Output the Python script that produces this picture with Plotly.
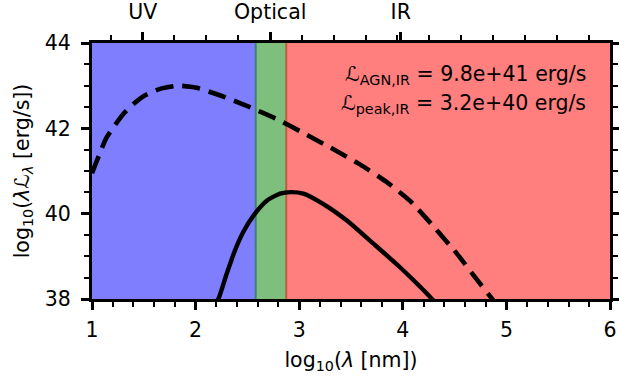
import numpy as np
import plotly.graph_objects as go

# Wavelength bands (log10 nm): UV, optical, IR
band_edges = [1.0, 2.58, 2.875, 6.0]
band_colors = ["blue", "green", "red"]

# Top-axis band labels
band_tick_vals = [1.49, 2.72, 3.98]
band_tick_text = ["UV", "Optical", "IR"]

# Luminosities quoted in the legend text (erg/s)
L_AGN_IR = 9.8e41
L_PEAK_IR = 3.2e40

# Total AGN SED (dashed)
agn_x = [1.00, 1.14, 1.30, 1.40, 1.50, 1.65, 1.84, 2.01, 2.24, 2.50, 2.79,
         3.01, 3.30, 3.59, 3.84, 4.07, 4.29, 4.52, 4.71, 4.87, 5.00]
agn_y = [40.95, 41.78, 42.33, 42.57, 42.76, 42.92, 43.00, 42.95, 42.77, 42.52,
         42.21, 41.93, 41.55, 41.15, 40.75, 40.30, 39.72, 39.07, 38.47, 37.98,
         37.58]

# IR component (solid); its maximum is the quoted peak luminosity
ir_peak_x = 2.92
ir_x = [2.15, 2.22, 2.30, 2.38, 2.46, 2.56, 2.69, 2.815, ir_peak_x, 3.04,
        3.23, 3.46, 3.72, 3.97, 4.17, 4.29, 4.40]
ir_y = [37.70, 38.00, 38.59, 39.14, 39.57, 39.96, 40.31, 40.47,
        float(np.log10(L_PEAK_IR)), 40.47, 40.23, 39.84, 39.29, 38.75,
        38.28, 37.98, 37.70]

FONT = "DejaVu Sans"
FS = 20.5

fig = go.Figure()

fig.add_trace(go.Scatter(
    x=agn_x, y=agn_y, mode="lines",
    line=dict(color="black", width=4.6, dash="18px,9px", shape="spline", smoothing=0.5),
    showlegend=False, hoverinfo="skip",
))
fig.add_trace(go.Scatter(
    x=ir_x, y=ir_y, mode="lines",
    line=dict(color="black", width=4.4, shape="spline", smoothing=0.6),
    showlegend=False, hoverinfo="skip",
))
# invisible traces to activate the top and right axes
fig.add_trace(go.Scatter(x=[1, 6], y=[40, 40], xaxis="x2", mode="lines",
                         line=dict(width=0), showlegend=False, hoverinfo="skip"))
fig.add_trace(go.Scatter(x=[1, 6], y=[40, 40], yaxis="y2", mode="lines",
                         line=dict(width=0), showlegend=False, hoverinfo="skip"))

for x0, x1, c in zip(band_edges[:-1], band_edges[1:], band_colors):
    fig.add_shape(type="rect", xref="x", yref="paper", x0=x0, x1=x1, y0=0, y1=1,
                  fillcolor=c, opacity=0.5, line=dict(color=c, width=2),
                  layer="below")

def fmt(v):
    m, e = f"{v:.1e}".split("e")
    return f"{m}e+{int(e)}"

fig.add_annotation(
    xref="paper", yref="paper", x=0.958, y=0.875, xanchor="right", yanchor="middle",
    text=f"ℒ<sub>AGN,IR</sub> = {fmt(L_AGN_IR)} erg/s", showarrow=False,
    font=dict(family=FONT, size=FS, color="black"),
)
fig.add_annotation(
    xref="paper", yref="paper", x=0.958, y=0.76, xanchor="right", yanchor="middle",
    text=f"ℒ<sub>peak,IR</sub> = {fmt(L_PEAK_IR)} erg/s", showarrow=False,
    font=dict(family=FONT, size=FS, color="black"),
)

minor_common = dict(ticks="outside", ticklen=5, tickwidth=2, tickcolor="black")
axis_common = dict(
    showline=True, linecolor="black", linewidth=3.2,
    ticks="outside", ticklen=8, tickwidth=2.6, tickcolor="black",
    showgrid=False, zeroline=False, automargin=False,
    tickfont=dict(family=FONT, size=FS, color="black"),
)

fig.update_layout(
    width=619, height=385,
    margin=dict(l=92, r=9, t=43, b=86),
    paper_bgcolor="white", plot_bgcolor="white",
    font=dict(family=FONT, size=FS, color="black"),
    xaxis=dict(
        range=[1, 6], tickmode="linear", tick0=1, dtick=1,
        minor=dict(tick0=1, dtick=0.2, **minor_common),
        ticklabelstandoff=2,
        title=dict(text="log<sub>10</sub>(<i>λ</i> [nm])", standoff=12,
                   font=dict(family=FONT, size=FS)),
        **axis_common,
    ),
    xaxis2=dict(
        range=[1, 6], overlaying="x", side="top",
        tickmode="array", tickvals=band_tick_vals, ticktext=band_tick_text,
        minor=dict(tickmode="linear", tick0=1.18, dtick=0.3075, **minor_common),
        ticklabelstandoff=5,
        **axis_common,
    ),
    yaxis=dict(
        range=[38, 44], tickmode="linear", tick0=38, dtick=2,
        minor=dict(tick0=38, dtick=0.5, **minor_common),
        ticklabelstandoff=6,
        title=dict(text="log<sub>10</sub>(<i>λ</i>ℒ<sub><i>λ</i></sub> [erg/s])", standoff=10,
                   font=dict(family=FONT, size=FS)),
        **axis_common,
    ),
    yaxis2=dict(
        range=[38, 44], overlaying="y", side="right",
        tickmode="linear", tick0=38, dtick=2, showticklabels=False,
        minor=dict(tick0=38, dtick=0.5, **minor_common),
        **axis_common,
    ),
)

fig.write_html("out.html")
